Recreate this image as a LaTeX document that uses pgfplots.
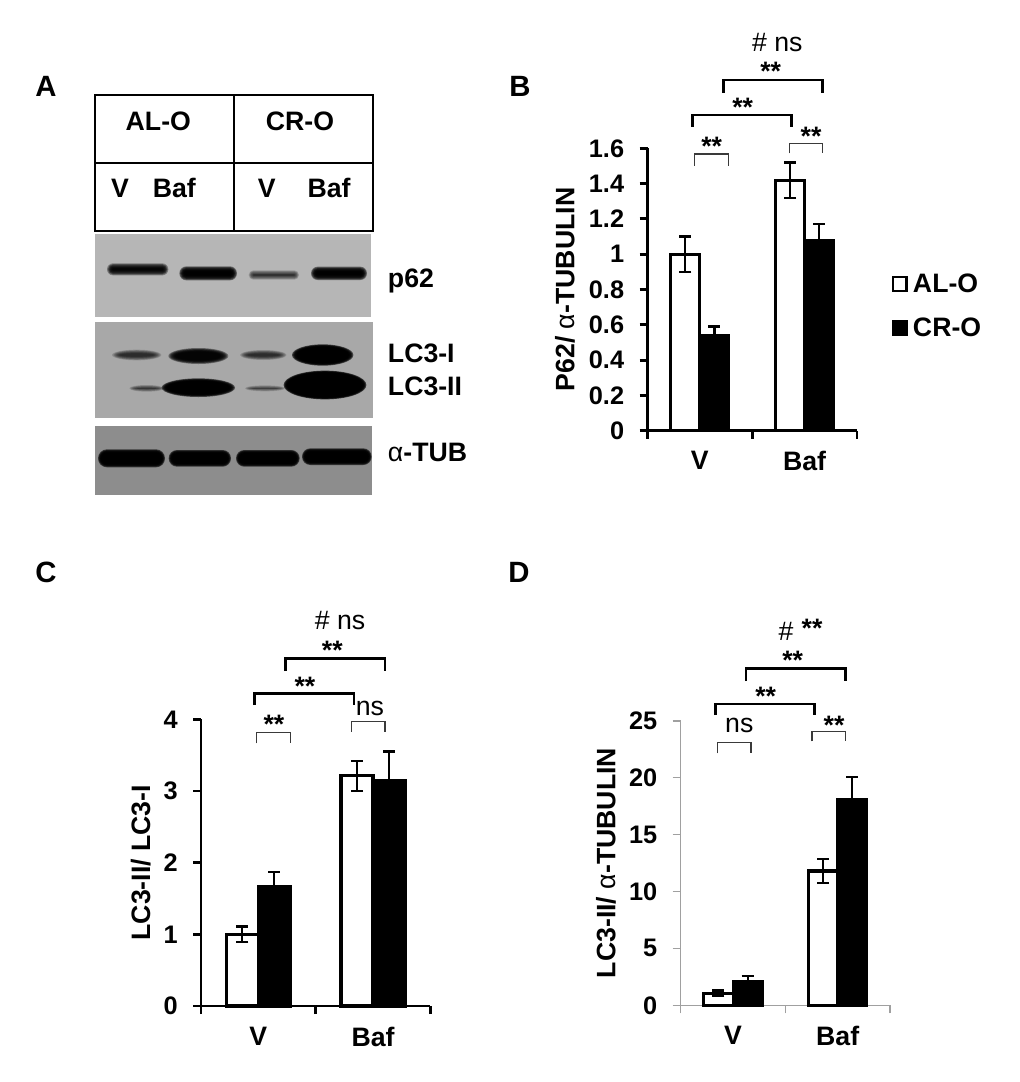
\documentclass[border=0pt]{standalone}
\usepackage{fontspec}
\setmainfont{Liberation Sans}
\usepackage{pgfplots}
\pgfplotsset{compat=1.18}

\definecolor{blotA}{HTML}{B6B6B6}
\definecolor{blotB}{HTML}{A8A8A8}
\definecolor{blotC}{HTML}{8D8D8D}
\definecolor{thinbr}{HTML}{3A3A3A}
\definecolor{axgray}{HTML}{A0A0A0}

\newcommand{\szb}{\fontsize{20pt}{24pt}\selectfont}
\newcommand{\tfb}{\bfseries\szb}
\newcommand{\alphach}{{\mdseries α}}

% blurred western blot bands, zoom-pixel units
\newcommand{\band}[5]{% x1 x2 yc h opacity
  \foreach \k in {0,...,7}{
    \pgfmathsetmacro{\g}{9-2.2*\k}
    \pgfmathsetmacro{\r}{max(0.25*(#4/2+\g),0.3)}
    \fill[black,fill opacity=#5,rounded corners=\r pt]
      (#1-\g,#3-#4/2-\g) rectangle (#2+\g,#3+#4/2+\g);
  }}
\newcommand{\blob}[5]{% cx cy rx ry opacity
  \foreach \k in {0,...,7}{
    \pgfmathsetmacro{\g}{6-1.6*\k}
    \pgfmathsetmacro{\ry}{max(#4+\g,1)}
    \fill[black,fill opacity=#5] (#1,#2) ellipse ({#3+2*\g} and {\ry});
  }}
\newcommand{\brk}[4]{\draw[line width=2.1pt,miter limit=10] (#1,#4)--(#1,#3)--(#2,#3)--(#2,#4);}
\newcommand{\brt}[4]{\draw[line width=1.1pt,thinbr] (#1,#4)--(#1,#3)--(#2,#3)--(#2,#4);}
\newcommand{\stars}[2]{\node[anchor=base,inner sep=0pt,font=\tfb] at (#1,#2+12.5) {**};}
\newcommand{\reg}[3]{\node[anchor=base,inner sep=0pt,font=\szb] at (#1,#2) {#3};}
\newcommand{\lab}[3]{\node[anchor=base west,inner sep=0pt,font=\tfb] at (#1,#2) {#3};}
\newcommand{\labc}[3]{\node[anchor=base,inner sep=0pt,font=\tfb] at (#1,#2) {#3};}

\pgfplotsset{
  panel/.style={
    scale only axis,
    anchor=south west,
    clip=false,
    axis lines=left,
    axis line style={-,line width=2.2pt},
    tick style={line width=2.2pt,black},
    major tick length=6pt,
    tick align=outside,
    xmin=0,xmax=2,ymin=0,
    xtick={0,1,2},
    xticklabels={V,Baf},
    x tick label as interval,
    xticklabel style={font=\tfb,yshift=-6pt},
    yticklabel style={font=\bfseries\fontsize{19pt}{22pt}\selectfont,xshift=-8pt},
    /pgf/number format/assume math mode=true,
    /pgf/number format/fixed,
    ylabel style={font=\tfb,anchor=center},
    ybar=0pt,
    error bars/error bar style={line width=1.7pt,black},
    error bars/error mark options={rotate=90,mark size=4.5pt,line width=1.7pt,black},
  },
  wbar/.style={draw=black,fill=white,line width=2.3pt,
    error bars/y dir=both,error bars/y explicit},
  kbar/.style={draw=black,fill=black,line width=2.3pt,
    error bars/y dir=both,error bars/y explicit},
}

\begin{document}
\begin{tikzpicture}[x=0.75pt,y=-0.75pt]
\useasboundingbox (0,0) rectangle (1020,1082);

% panel letters
\node[anchor=base west,inner sep=0pt,font=\bfseries\fontsize{22pt}{26pt}\selectfont] at (35,96.5) {A};
\node[anchor=base west,inner sep=0pt,font=\bfseries\fontsize{22pt}{26pt}\selectfont] at (509,96.5) {B};
\node[anchor=base west,inner sep=0pt,font=\bfseries\fontsize{22pt}{26pt}\selectfont] at (35,582.5) {C};
\node[anchor=base west,inner sep=0pt,font=\bfseries\fontsize{22pt}{26pt}\selectfont] at (508,582.5) {D};

% panel A header table
\draw[line width=1.4pt] (94.7,95) rectangle (372.7,231);
\draw[line width=1.4pt] (234.3,95)--(234.3,231) (94.7,163.3)--(372.7,163.3);
\labc{158.3}{130}{AL-O}
\labc{300}{130}{CR-O}
\labc{120}{197.3}{V}
\labc{174.3}{197.3}{Baf}
\labc{266.7}{197.3}{V}
\labc{329}{197.3}{Baf}

% panel A blots
\fill[blotA] (95,234) rectangle (370.7,316.7);
\fill[blotB] (95,321.7) rectangle (372.7,417.7);
\fill[blotC] (95,426) rectangle (371.7,495);
\begin{scope}[shift={(20,60)},x=0.25pt,y=-0.25pt]
  \band{270}{436}{628}{18}{0.33}
  \band{487}{642}{640}{24}{0.42}
  \band{695}{828}{645}{10}{0.17}
  \band{882}{1032}{640}{22}{0.42}
  \blob{350}{885}{62}{10}{0.15}
  \blob{535}{888}{78}{18}{0.35}
  \blob{730}{885}{58}{9}{0.15}
  \blob{908}{885}{80}{26}{0.6}
  \blob{380}{985}{40}{4}{0.14}
  \blob{535}{983}{98}{22}{0.55}
  \blob{735}{985}{48}{3}{0.13}
  \blob{915}{975}{112}{37}{0.7}
  \band{243}{426}{1195}{36}{0.6}
  \band{455}{624}{1195}{32}{0.6}
  \band{657}{830}{1195}{32}{0.6}
  \band{855}{1046}{1190}{32}{0.6}
\end{scope}
\lab{387.7}{287.3}{p62}
\lab{387.7}{362.7}{LC3-I}
\lab{387.7}{395}{LC3-II}
\lab{387.7}{461.7}{\alphach-TUB}

% panel B
\begin{axis}[panel,
  at={(647.5*0.75pt,-430.7*0.75pt)},
  width=157.1pt,height=211.8pt,
  ymax=1.6,ytick={0,0.2,...,1.6},
  ylabel={P62/ \alphach-TUBULIN},
  ylabel style={at={(axis description cs:-0.394,0.5)}},
  bar width=21.8pt,
  legend style={at={(axis description cs:1.165,0.557)},anchor=north west,
    draw=none,fill=none,font=\tfb,inner sep=0pt,row sep=17.75pt,
    nodes={inner sep=0pt},column sep=4pt},
  legend cell align=left,
]
\addplot[wbar,legend image code/.code={\draw[draw=black,fill=white,line width=1.7pt] (0pt,-5.1pt) rectangle (10.2pt,5.1pt);}]
  coordinates {(0.5,1.00) +- (0,0.10) (1.5,1.42) +- (0,0.10)};
\addlegendentry{AL-O}
\addplot[kbar,legend image code/.code={\draw[draw=black,fill=black,line width=1.7pt] (0pt,-5.1pt) rectangle (10.2pt,5.1pt);}]
  coordinates {(0.5,0.54) +- (0,0.05) (1.5,1.08) +- (0,0.09)};
\addlegendentry{CR-O}
\end{axis}
\brk{723.3}{822.7}{80}{92.7}
\brk{692.7}{791.7}{115}{126.7}
\brt{694.3}{728.3}{154}{165.7}
\brt{789.3}{822.7}{143.3}{153.3}
\stars{770.7}{68}
\stars{742.7}{104}
\stars{711.7}{142.7}
\stars{811}{132.7}
\reg{777.3}{51.7}{\# ns}

% panel C
\begin{axis}[panel,
  at={(201*0.75pt,-1006*0.75pt)},
  width=172pt,height=215pt,
  ymax=4,ytick={0,1,2,3,4},
  ylabel={LC3-II/ LC3-I},
  ylabel style={at={(axis description cs:-0.263,0.5)}},
  bar width=24pt,
]
\addplot[wbar] coordinates {(0.5,1.00) +- (0,0.11) (1.5,3.21) +- (0,0.21)};
\addplot[kbar] coordinates {(0.5,1.67) +- (0,0.20) (1.5,3.15) +- (0,0.40)};
\end{axis}
\brk{285.3}{385}{658.3}{671}
\brk{254.7}{354}{693.3}{705}
\brt{256.7}{290.7}{732.3}{743.3}
\brt{351.3}{385}{721.3}{731.7}
\stars{332.3}{646.7}
\stars{305}{682.7}
\stars{274}{720.7}
\reg{370}{715}{ns}
\reg{340}{629.3}{\# ns}

% panel D
\begin{axis}[panel,
  at={(680.7*0.75pt,-1005.3*0.75pt)},
  width=157pt,height=213.4pt,
  axis line style={-,line width=1.1pt,axgray},
  tick style={line width=1.1pt,axgray},
  ymax=25,ytick={0,5,...,25},
  ylabel={LC3-II/ \alphach-TUBULIN},
  ylabel style={at={(axis description cs:-0.357,0.5)}},
  bar width=21.9pt,
]
\addplot[wbar] coordinates {(0.5,1.05) +- (0,0.25) (1.5,11.8) +- (0,1.05)};
\addplot[kbar] coordinates {(0.5,2.08) +- (0,0.50) (1.5,18.05) +- (0,2.0)};
\end{axis}
\brk{746}{845.3}{668.3}{681}
\brk{715.3}{814.7}{704}{715}
\brt{717.3}{751}{742.3}{753.3}
\brt{812}{845.3}{731.7}{741.3}
\stars{792.7}{657.3}
\stars{765.7}{693.3}
\stars{834}{721.7}
\reg{739.3}{732.3}{ns}
\reg{786}{640}{\#}
\stars{812}{625}
\end{tikzpicture}
\end{document}
